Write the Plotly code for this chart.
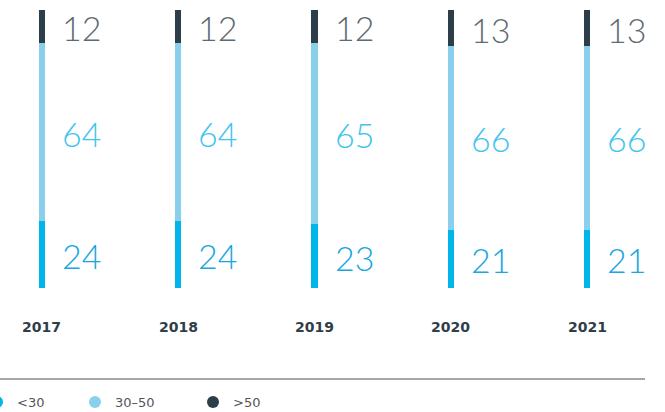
import plotly.graph_objects as go

years = ["2017", "2018", "2019", "2020", "2021"]
under_30 = [24, 24, 23, 21, 21]
from_30_to_50 = [64, 64, 65, 66, 66]
over_50 = [12, 12, 12, 13, 13]

series = [
    ("<30", under_30, "#00b5e9", "#1aa6e0"),
    ("30–50", from_30_to_50, "#88d0ec", "#43c4ee"),
    (">50", over_50, "#2c3e4a", "#5e6a73"),
]
legend_x = [-23, 75, 193]  # px of each legend box

xs = list(range(len(years)))
fig = go.Figure()

base = [0] * len(years)
for k, (name, vals, color, text_color) in enumerate(series):
    fig.add_trace(
        go.Bar(
            x=xs,
            y=vals,
            name=name,
            marker=dict(color=color, line=dict(width=0)),
            width=0.045,
            hoverinfo="skip",
            showlegend=False,
        )
    )
    # legend entry with round marker, each in its own legend box
    lg = "legend" if k == 0 else f"legend{k + 1}"
    fig.add_trace(
        go.Scatter(
            x=[None], y=[None], mode="markers", name=name, legend=lg,
            marker=dict(color=color, size=12, symbol="circle"),
        )
    )
    # value labels to the right of each segment
    for i, v in enumerate(vals):
        fig.add_annotation(
            x=xs[i],
            y=base[i] + v / 2,
            xref="x",
            yref="y",
            text=str(v),
            showarrow=False,
            xanchor="left",
            xshift=18,
            yshift=-1,
            font=dict(family="Lato", size=34, color=text_color, weight=300),
        )
        base[i] += v

for i, yr in enumerate(years):
    fig.add_annotation(
        x=xs[i], y=0, xref="x", yref="y", text=yr, showarrow=False,
        yshift=-39, font=dict(family="DejaVu Sans", size=14, color="#2f3e4a", weight="bold"),
    )

# separator line above the legend
fig.add_shape(type="line", xref="paper", yref="paper", x0=0, x1=645 / 665,
              y0=-91 / 278, y1=-91 / 278, line=dict(color="#8a8a8a", width=1.5))

legend_style = dict(
    orientation="h",
    xanchor="left",
    y=-99 / 278,
    yanchor="top",
    font=dict(family="DejaVu Sans", size=13, color="#555555"),
    bgcolor="rgba(0,0,0,0)",
    itemwidth=30,
)
fig.update_layout(
    width=665,
    height=412,
    margin=dict(l=0, r=0, t=10, b=124, autoexpand=False),
    barmode="stack",
    bargap=0,
    plot_bgcolor="white",
    paper_bgcolor="white",
    showlegend=True,
    legend=dict(x=legend_x[0] / 665, **legend_style),
    legend2=dict(x=legend_x[1] / 665, **legend_style),
    legend3=dict(x=legend_x[2] / 665, **legend_style),
    xaxis=dict(range=[-0.308, 4.572], visible=False, fixedrange=True),
    yaxis=dict(range=[0, 100], visible=False, fixedrange=True),
)

fig.write_html(
    "out.html",
    config={"displayModeBar": False},
    post_script="document.body.style.margin='0';",
)
